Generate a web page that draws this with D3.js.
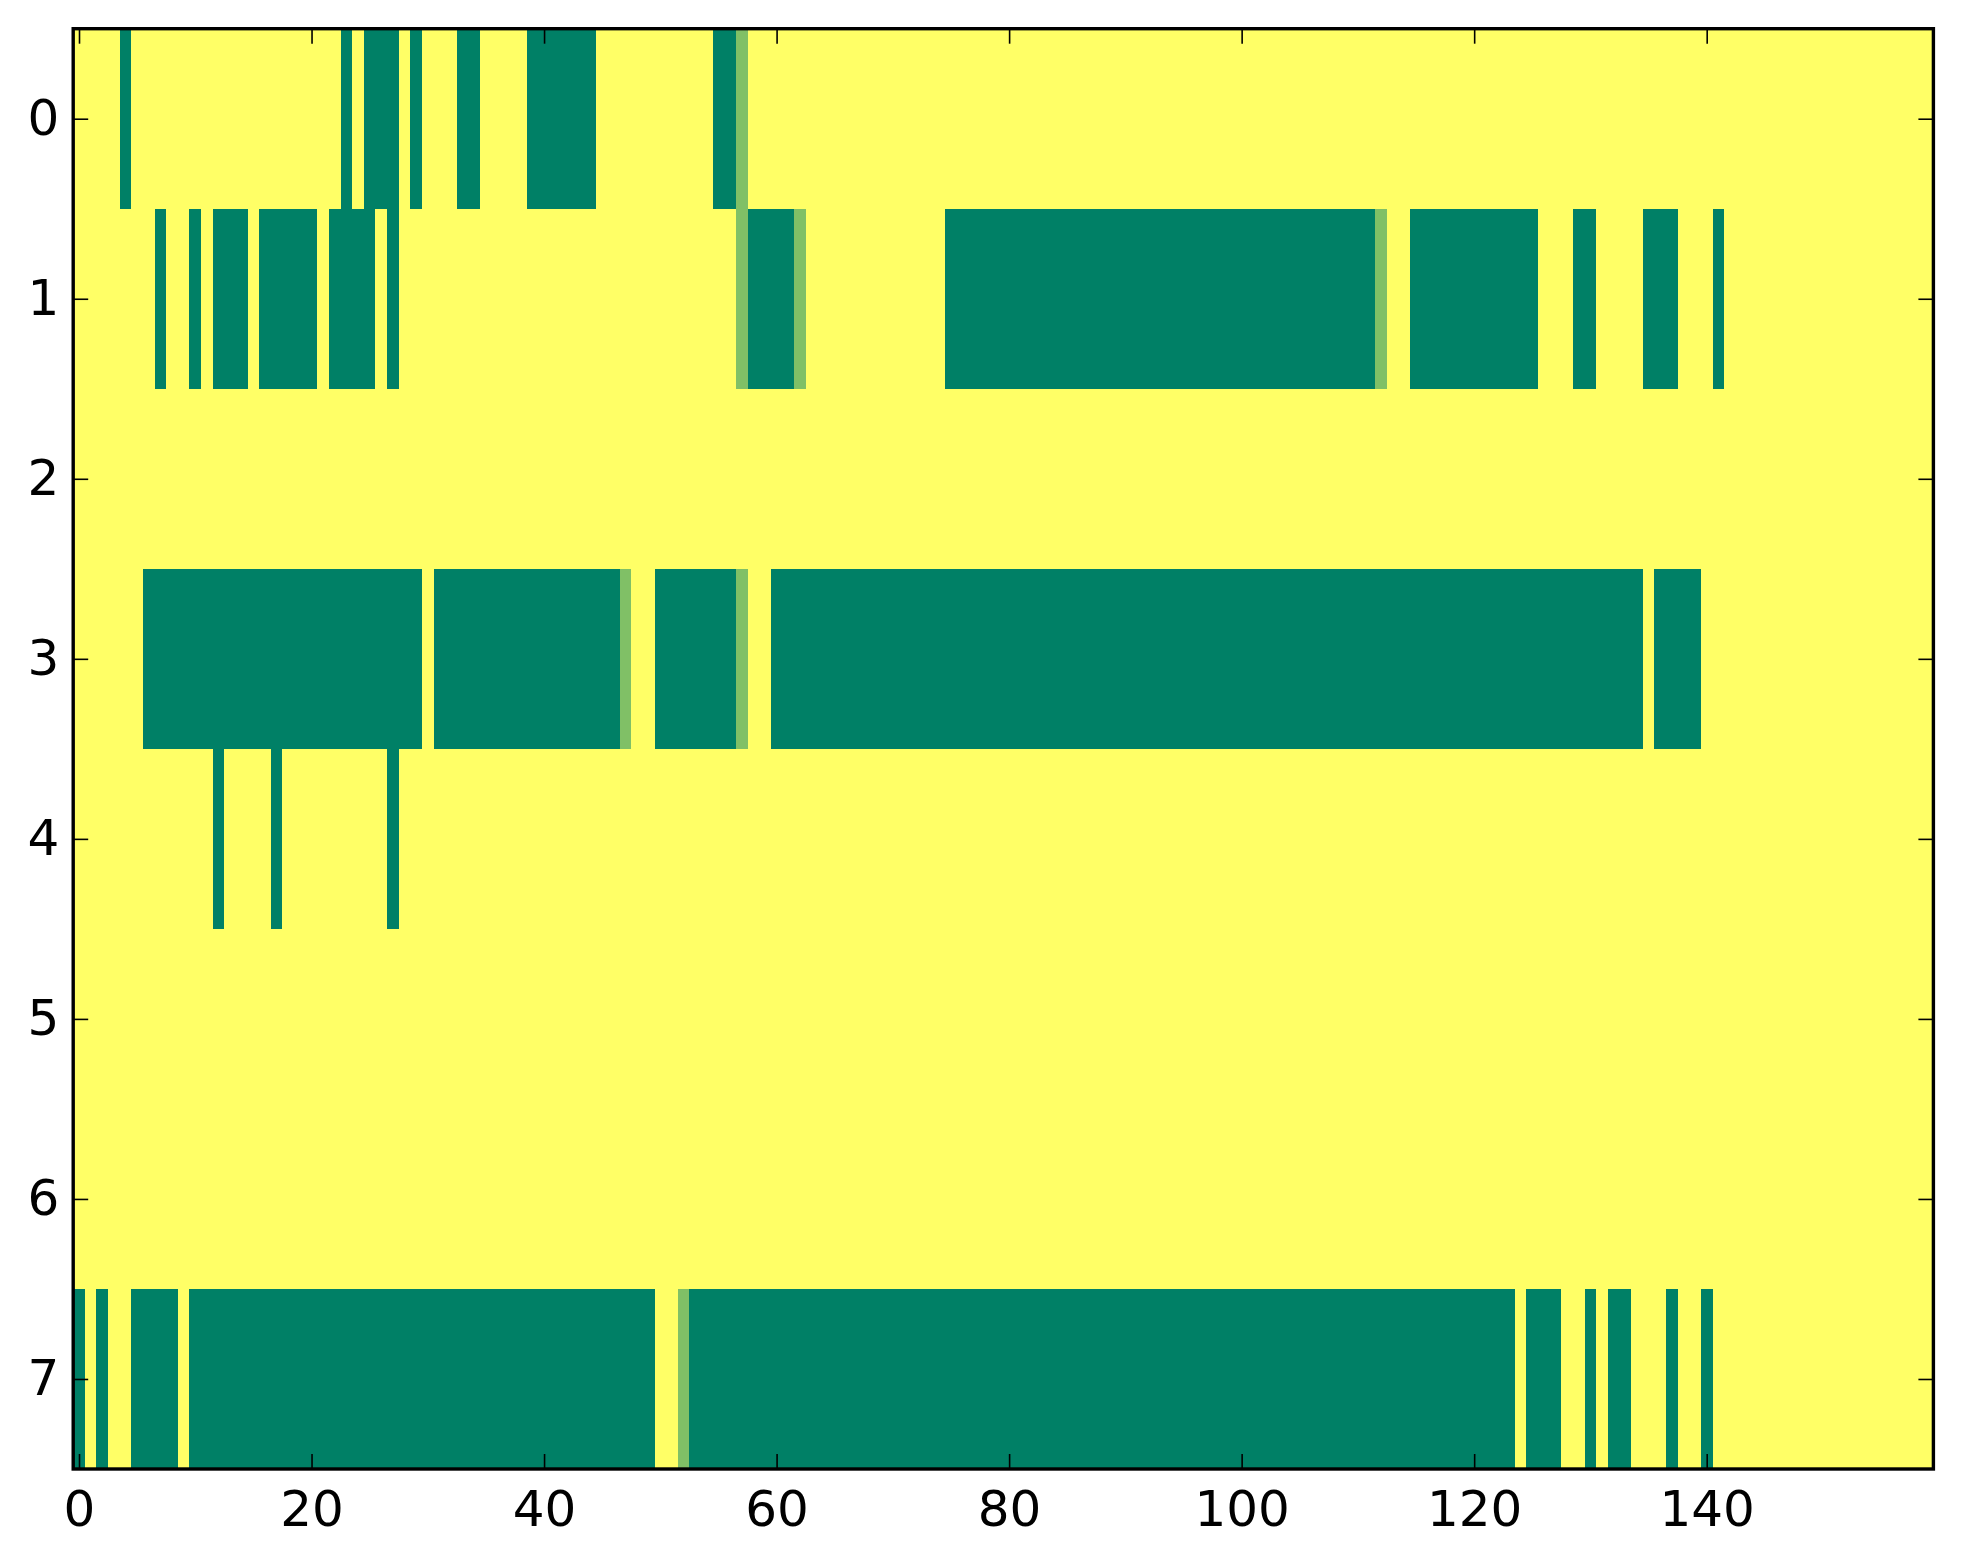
<!DOCTYPE html>
<html>
<head>
<meta charset="utf-8">
<script src="https://cdn.jsdelivr.net/npm/d3@7/dist/d3.min.js"></script>
<style>
  html, body { margin: 0; padding: 0; background: #ffffff; }
  svg { display: block; }
</style>
</head>
<body>
<script>
// ---- DATA ----
// Each row: 160 cells; digit = index into levelValues (0 -> 0.0, 1 -> 0.5, 2 -> 1.0)
const levelValues = [0, 0.5, 1];
const rowLabels = [0, 1, 2, 3, 4, 5, 6, 7];
const rowCodes = [
  "2222022222 2222222222 2220200020 2220022220 0000022222 2222200122 2222222222 2222222222 2222222222 2222222222 2222222222 2222222222 2222222222 2222222222 2222222222 2222222222",
  "2222222022 0200020000 0200002022 2222222222 2222222222 2222222100 0012222222 2222200000 0000000000 0000000000 0000000000 0012200000 0000002220 0222200022 2022222222 2222222222",
  "2222222222 2222222222 2222222222 2222222222 2222222222 2222222222 2222222222 2222222222 2222222222 2222222222 2222222222 2222222222 2222222222 2222222222 2222222222 2222222222",
  "2222220000 0000000000 0000000000 2000000000 0000000122 0000000122 0000000000 0000000000 0000000000 0000000000 0000000000 0000000000 0000000000 0000020000 2222222222 2222222222",
  "2222222222 2202222022 2222222022 2222222222 2222222222 2222222222 2222222222 2222222222 2222222222 2222222222 2222222222 2222222222 2222222222 2222222222 2222222222 2222222222",
  "2222222222 2222222222 2222222222 2222222222 2222222222 2222222222 2222222222 2222222222 2222222222 2222222222 2222222222 2222222222 2222222222 2222222222 2222222222 2222222222",
  "2222222222 2222222222 2222222222 2222222222 2222222222 2222222222 2222222222 2222222222 2222222222 2222222222 2222222222 2222222222 2222222222 2222222222 2222222222 2222222222",
  "0202200002 0000000000 0000000000 0000000000 0000000000 2210000000 0000000000 0000000000 0000000000 0000000000 0000000000 0000000000 0000200022 0200222022 0222222222 2222222222"
];
const xTickValues = [0, 20, 40, 60, 80, 100, 120, 140];
const yTickValues = [0, 1, 2, 3, 4, 5, 6, 7];

// ---- BUILD MATRIX ----
const matrix = rowCodes.map(s => s.replace(/\s+/g, "").split("").map(c => levelValues[+c]));
const nCols = matrix[0].length;
const nRows = matrix.length;
const cells = [];
matrix.forEach((row, r) => row.forEach((v, c) => cells.push({ r, c, v })));

// ---- LAYOUT ----
const W = 1963, H = 1564;
const plotLeft = 73.2, plotRight = 1933.4, plotTop = 28.7, plotBottom = 1469;

const svg = d3.select("body").append("svg").attr("width", W).attr("height", H);

const x = d3.scaleLinear().domain([-0.5, nCols - 0.5]).range([plotLeft, plotRight]);
const y = d3.scaleLinear().domain([-0.5, nRows - 0.5]).range([plotTop, plotBottom]);
// summer colormap (linear in RGB)
const color = d3.scaleLinear().domain([0, 1]).range(["#008066", "#ffff66"]).interpolate(d3.interpolateRgb);

svg.append("g")
  .selectAll("rect")
  .data(cells)
  .join("rect")
  .attr("x", d => x(d.c - 0.5))
  .attr("y", d => y(d.r - 0.5))
  .attr("width", d => x(d.c + 0.5) - x(d.c - 0.5))
  .attr("height", d => y(d.r + 0.5) - y(d.r - 0.5))
  .attr("fill", d => color(d.v))
  .attr("shape-rendering", "crispEdges");

const tickLen = 15;
const font = "'DejaVu Sans', sans-serif";

function styleAxis(g) {
  g.select(".domain").remove();
  g.selectAll(".tick line").attr("stroke", "#000").attr("stroke-width", 1.6);
  g.selectAll(".tick text").attr("fill", "#000").style("font-family", font).style("font-size", "50px");
}

svg.append("g")
  .attr("transform", `translate(0,${plotBottom})`)
  .call(d3.axisBottom(x).tickValues(xTickValues).tickSize(-tickLen).tickSizeOuter(0).tickPadding(21).tickFormat(d3.format("d")))
  .call(styleAxis);

svg.append("g")
  .attr("transform", `translate(0,${plotTop})`)
  .call(d3.axisTop(x).tickValues(xTickValues).tickSize(-tickLen).tickSizeOuter(0).tickFormat(""))
  .call(styleAxis);

svg.append("g")
  .attr("transform", `translate(${plotLeft},0)`)
  .call(d3.axisLeft(y).tickValues(yTickValues).tickSize(-tickLen).tickSizeOuter(0).tickPadding(14).tickFormat(d => rowLabels[d]))
  .call(styleAxis);

svg.append("g")
  .attr("transform", `translate(${plotRight},0)`)
  .call(d3.axisRight(y).tickValues(yTickValues).tickSize(-tickLen).tickSizeOuter(0).tickFormat(""))
  .call(styleAxis);

svg.append("rect")
  .attr("x", plotLeft).attr("y", plotTop)
  .attr("width", plotRight - plotLeft).attr("height", plotBottom - plotTop)
  .attr("fill", "none").attr("stroke", "#000").attr("stroke-width", 3.4);
</script>
</body>
</html>
